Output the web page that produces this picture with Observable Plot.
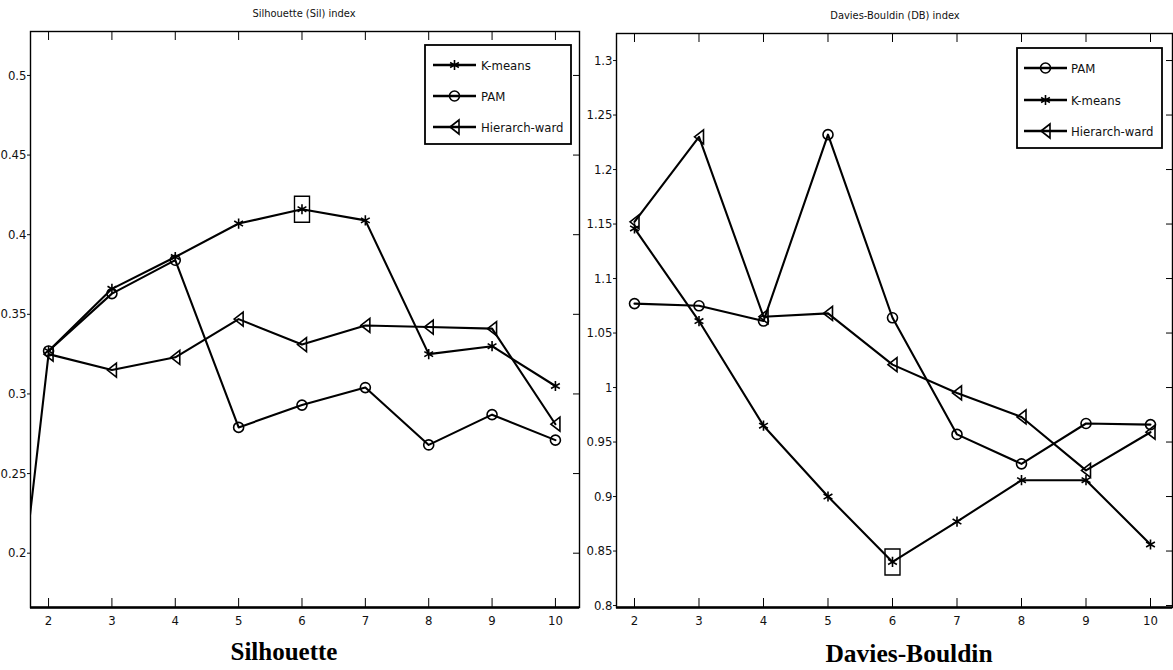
<!DOCTYPE html>
<html><head><meta charset="utf-8">
<script src="https://cdn.jsdelivr.net/npm/d3@7"></script>
<script src="https://cdn.jsdelivr.net/npm/@observablehq/plot@0.6"></script>
<style>
body{margin:0;background:#fff;}
#wrap{position:relative;width:1173px;height:670px;overflow:hidden;background:#fff;}
#wrap > svg, #wrap > div {position:absolute;}
</style></head><body><div id="wrap"></div>
<script>
// ---- data ----
const ks = [2, 3, 4, 5, 6, 7, 8, 9, 10];
const silKmeans = [0.327, 0.366, 0.386, 0.407, 0.416, 0.409, 0.325, 0.330, 0.305];
const silPam    = [0.327, 0.363, 0.384, 0.279, 0.293, 0.304, 0.268, 0.287, 0.271];
const silWard   = [0.325, 0.315, 0.323, 0.347, 0.331, 0.343, 0.342, 0.341, 0.281];
const silWardK1 = -0.02; // value at k = 1 (segment leaving the frame on the left)
const dbPam     = [1.077, 1.075, 1.061, 1.232, 1.064, 0.957, 0.930, 0.967, 0.966];
const dbKmeans  = [1.146, 1.061, 0.965, 0.900, 0.840, 0.877, 0.915, 0.915, 0.856];
const dbWard    = [1.152, 1.230, 1.065, 1.068, 1.021, 0.995, 0.973, 0.924, 0.959];
const silYTicks = [0.2, 0.25, 0.3, 0.35, 0.4, 0.45, 0.5];
const dbYTicks  = [0.8, 0.85, 0.9, 0.95, 1, 1.05, 1.1, 1.15, 1.2, 1.25, 1.3];
const silLegend = ["K-means", "PAM", "Hierarch-ward"];
const dbLegend  = ["PAM", "K-means", "Hierarch-ward"];
const silTitle = "Silhouette (Sil) index", dbTitle = "Davies-Bouldin (DB) index";
const silCaption = "Silhouette", dbCaption = "Davies-Bouldin";

// ---- styling helpers ----
const FONT = '"Liberation Sans Narrow","Arial Narrow","DejaVu Sans Condensed","Liberation Sans",Arial,sans-serif';
const triLeft = {draw(c){ c.moveTo(-4.5,0); c.lineTo(4.5,-7); c.lineTo(4.5,7); c.closePath(); }};
const hiBox = {draw(c){ c.moveTo(-7.5,-13); c.lineTo(7.5,-13); c.lineTo(7.5,13); c.lineTo(-7.5,13); c.closePath(); }};
const symbolOf = {"K-means": "asterisk", "PAM": "circle", "Hierarch-ward": triLeft};
const rOf = {"K-means": 4.8, "PAM": 5, "Hierarch-ward": 5};
const rows = (method, xs, vs) => xs.map((k, i) => ({method, k, v: vs[i]}));
const fmt = d => String(+d.toFixed(2));

function panel(cfg) {
  const {left, width, height, mt, mb, ml, mr, xDomain, yDomain, yTicks, series, best} = cfg;
  const fw = width - ml - mr, fh = height - mt - mb;
  const marks = [];
  for (const s of series) marks.push(Plot.line(s.line, {x: "k", y: "v", stroke: "black", strokeWidth: 2.1, clip: true}));
  for (const s of series) marks.push(Plot.dot(s.pts, {x: "k", y: "v", symbol: symbolOf[s.name], r: rOf[s.name], stroke: "black", fill: "none", strokeWidth: 1.6}));
  marks.push(Plot.dot(best, {x: "k", y: "v", symbol: hiBox, r: 5, stroke: "black", fill: "none", strokeWidth: 1.4}));
  marks.push(
    Plot.ruleX(ks, {insetTop: fh - 9, stroke: "black", strokeWidth: 1}),
    Plot.ruleX(ks, {insetBottom: fh - 9, stroke: "black", strokeWidth: 1}),
    Plot.ruleY(yTicks, {insetLeft: fw - 6, stroke: "black", strokeWidth: 1}),
    Plot.axisX(ks, {tickSize: 0, tickPadding: 8, label: null, fontSize: 13}),
    Plot.axisY(yTicks, {tickSize: 3, tickPadding: 1, tickFormat: fmt, label: null, fontSize: 13}),
    Plot.frame({stroke: "black", strokeWidth: 1.4}),
    Plot.ruleY([yDomain[0]], {stroke: "black", strokeWidth: 2.6})
  );
  const svg = Plot.plot({
    width, height, marginTop: mt, marginBottom: mb, marginLeft: ml, marginRight: mr,
    x: {domain: xDomain}, y: {domain: yDomain},
    style: {fontFamily: FONT, fontSize: "13px", color: "#111", background: "transparent", overflow: "visible"},
    marks
  });
  svg.style.left = left + "px"; svg.style.top = "0px";
  return svg;
}

const wrap = document.getElementById("wrap");

const silSeries = [
  {name: "K-means", pts: rows("K-means", ks, silKmeans), line: rows("K-means", ks, silKmeans)},
  {name: "PAM", pts: rows("PAM", ks, silPam), line: rows("PAM", ks, silPam)},
  {name: "Hierarch-ward", pts: rows("Hierarch-ward", ks, silWard), line: rows("Hierarch-ward", [1, ...ks], [silWardK1, ...silWard])}
];
const silBest = [silSeries[0].pts.reduce((a, b) => b.v > a.v ? b : a)];
wrap.appendChild(panel({left: 0, width: 580, height: 640, mt: 31, mb: 33, ml: 30, mr: 1,
  xDomain: [1.715, 10.38], yDomain: [0.1659, 0.5276], yTicks: silYTicks, series: silSeries, best: silBest}));

const dbSeries = [
  {name: "PAM", pts: rows("PAM", ks, dbPam), line: rows("PAM", ks, dbPam)},
  {name: "K-means", pts: rows("K-means", ks, dbKmeans), line: rows("K-means", ks, dbKmeans)},
  {name: "Hierarch-ward", pts: rows("Hierarch-ward", ks, dbWard), line: rows("Hierarch-ward", ks, dbWard)}
];
const dbBest = [dbSeries[1].pts.reduce((a, b) => b.v < a.v ? b : a)];
wrap.appendChild(panel({left: 586, width: 587, height: 640, mt: 33, mb: 33, ml: 30, mr: 1,
  xDomain: [1.721, 10.341], yDomain: [0.7982, 1.3248], yTicks: dbYTicks, series: dbSeries, best: dbBest}));

// ---- overlay: titles, captions, legends ----
const ov = d3.select(wrap).append("svg").attr("width", 1173).attr("height", 670)
  .style("left", "0px").style("top", "0px").style("pointer-events", "none");

ov.append("text").attr("x", 304).attr("y", 17).attr("text-anchor", "middle")
  .attr("font-family", FONT).attr("font-size", 11).attr("fill", "#111").text(silTitle);
ov.append("text").attr("x", 895).attr("y", 19).attr("text-anchor", "middle")
  .attr("font-family", FONT).attr("font-size", 11).attr("fill", "#111").text(dbTitle);
ov.append("text").attr("x", 284).attr("y", 660).attr("text-anchor", "middle")
  .attr("font-family", '"Liberation Serif","Times New Roman",serif').attr("font-weight", "bold")
  .attr("font-size", 25).attr("fill", "#000").text(silCaption);
ov.append("text").attr("x", 909).attr("y", 662).attr("text-anchor", "middle")
  .attr("font-family", '"Liberation Serif","Times New Roman",serif').attr("font-weight", "bold")
  .attr("font-size", 25.5).attr("fill", "#000").text(dbCaption);

function legend(names, x0, y0, w, h, ys, lx0, lx1, tx) {
  const g = ov.append("g");
  g.append("rect").attr("x", x0).attr("y", y0).attr("width", w).attr("height", h)
    .attr("fill", "white").attr("stroke", "black").attr("stroke-width", 1.8);
  names.forEach((n, i) => {
    const y = ys[i];
    g.append("line").attr("x1", lx0).attr("x2", lx1).attr("y1", y).attr("y2", y)
      .attr("stroke", "black").attr("stroke-width", 2.3);
    const sym = symbolOf[n] === "asterisk" ? d3.symbolAsterisk : symbolOf[n] === "circle" ? d3.symbolCircle : triLeft;
    g.append("path").attr("transform", `translate(${(lx0 + lx1) / 2},${y})`)
      .attr("d", d3.symbol(sym, Math.PI * rOf[n] * rOf[n])())
      .attr("fill", "none").attr("stroke", "black").attr("stroke-width", 1.6);
    g.append("text").attr("x", tx).attr("y", y + 4.5).attr("font-family", FONT)
      .attr("font-size", 13).attr("fill", "#111").text(n);
  });
}
legend(silLegend, 425, 45, 146, 99, [65, 96, 127], 433, 476, 481);
legend(dbLegend, 1017, 48, 145, 100, [68, 100, 131], 1024, 1067, 1071);
</script></body></html>
